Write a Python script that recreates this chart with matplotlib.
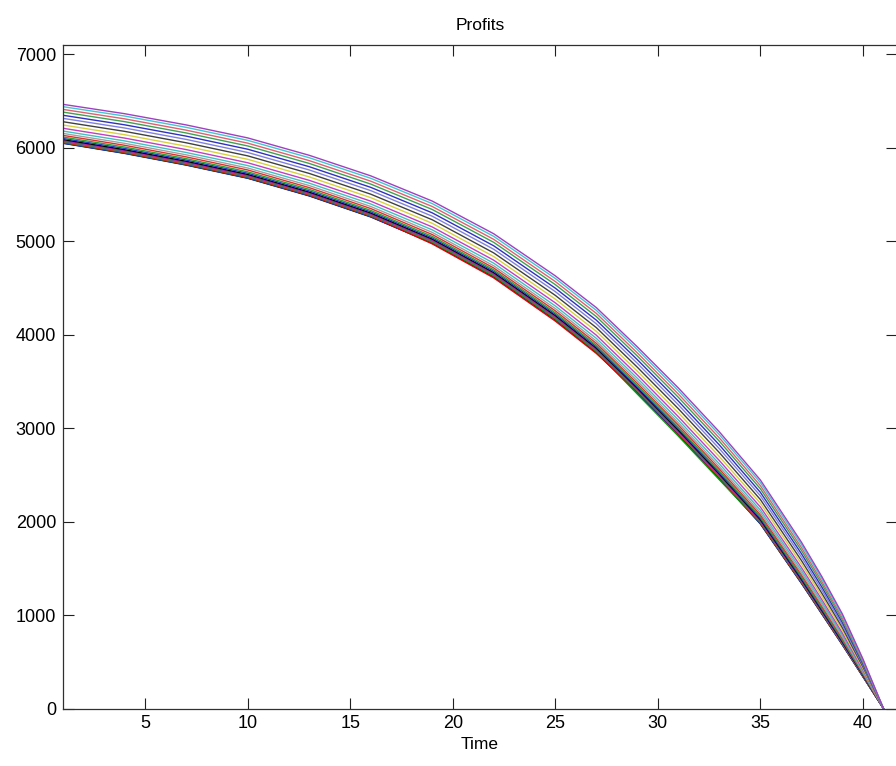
"""Profit paths over time, one line per scenario, saved to out.png."""

import matplotlib.pyplot as plt

plt.rcParams["font.family"] = ["Liberation Sans", "DejaVu Sans"]

# sample times (periods)
time = [1, 4, 7, 10, 13, 16, 19, 22, 25, 27, 29, 31, 33, 35, 37, 38, 39, 40, 41]

# profit paths, highest starting level first
profits = [
    [6465, 6365, 6245, 6106, 5920, 5700, 5430, 5080, 4630, 4290, 3870, 3430, 2960, 2445, 1780, 1410, 1010, 530, 0],
    [6440, 6340, 6219, 6080, 5894, 5674, 5403, 5052, 4602, 4261, 3841, 3400, 2930, 2417, 1754, 1386, 990, 519, 0],
    [6411, 6310, 6189, 6050, 5863, 5643, 5372, 5020, 4569, 4228, 3806, 3365, 2895, 2384, 1723, 1358, 967, 505, 0],
    [6382, 6280, 6159, 6020, 5833, 5612, 5340, 4988, 4536, 4194, 3772, 3330, 2860, 2351, 1692, 1330, 944, 492, 0],
    [6348, 6246, 6125, 5985, 5798, 5577, 5304, 4951, 4498, 4156, 3733, 3290, 2820, 2313, 1657, 1298, 918, 477, 0],
    [6315, 6212, 6090, 5950, 5763, 5542, 5268, 4914, 4461, 4117, 3694, 3250, 2780, 2276, 1622, 1266, 891, 462, 0],
    [6279, 6176, 6054, 5914, 5726, 5504, 5230, 4875, 4421, 4076, 3652, 3208, 2738, 2236, 1584, 1232, 863, 445, 0],
    [6244, 6140, 6017, 5877, 5689, 5467, 5192, 4836, 4381, 4036, 3610, 3165, 2695, 2196, 1547, 1198, 835, 429, 0],
    [6209, 6104, 5981, 5840, 5652, 5429, 5153, 4797, 4341, 3995, 3569, 3123, 2653, 2156, 1509, 1164, 807, 413, 0],
    [6179, 6074, 5950, 5810, 5622, 5399, 5122, 4765, 4308, 3961, 3534, 3088, 2618, 2123, 1479, 1136, 784, 400, 0],
    [6154, 6048, 5925, 5784, 5596, 5372, 5095, 4737, 4280, 3932, 3505, 3058, 2588, 2095, 1452, 1112, 764, 388, 0],
    [6133, 6027, 5903, 5763, 5574, 5350, 5072, 4714, 4256, 3908, 3480, 3033, 2563, 2071, 1430, 1092, 748, 379, 0],
    [6115, 6008, 5884, 5743, 5555, 5330, 5052, 4694, 4235, 3887, 3458, 3010, 2540, 2050, 1410, 1074, 733, 370, 0],
    [6100, 5993, 5869, 5728, 5539, 5315, 5036, 4678, 4219, 3870, 3441, 2993, 2523, 2034, 1395, 1060, 721, 364, 0],
    [6088, 5980, 5856, 5715, 5526, 5302, 5023, 4664, 4205, 3856, 3427, 2978, 2508, 2020, 1382, 1048, 711, 358, 0],
    [6077, 5970, 5845, 5704, 5515, 5291, 5012, 4652, 4193, 3844, 3414, 2965, 2495, 2008, 1371, 1038, 703, 353, 0],
    [6070, 5963, 5838, 5697, 5508, 5283, 5004, 4644, 4185, 3835, 3406, 2957, 2487, 2000, 1363, 1031, 697, 350, 0],
    [6063, 5955, 5830, 5690, 5501, 5276, 4996, 4637, 4177, 3827, 3398, 2948, 2478, 1992, 1356, 1024, 692, 347, 0],
    [6058, 5950, 5825, 5684, 5495, 5271, 4972, 4608, 4146, 3800, 3392, 2942, 2472, 1986, 1351, 1020, 688, 345, 0],
    [6054, 5946, 5821, 5680, 5492, 5267, 4987, 4627, 4167, 3817, 3365, 2915, 2448, 1982, 1347, 1016, 685, 343, 0],
    [6051, 5943, 5818, 5677, 5488, 5263, 4983, 4623, 4163, 3813, 3383, 2934, 2464, 1978, 1343, 1013, 682, 341, 0],
    [6048, 5940, 5815, 5674, 5485, 5260, 4980, 4620, 4160, 3810, 3380, 2930, 2460, 1975, 1340, 1010, 680, 340, 0],
]

line_colors = [
    "#a040c0", "#40c8d0", "#e06070", "#40a050", "#3030c0", "#8080e0",
    "#404040", "#d8d040", "#c040c0", "#40c0c0", "#a0a0a0", "#e03030",
    "#30a030", "#2040c0", "#000000", "#c020a0", "#208080", "#a06030",
    "#e00000", "#00a000", "#0000ff", "#202080",
]


def main() -> None:
    fig = plt.figure(figsize=(8.96, 7.66), dpi=100)
    ax = fig.add_axes([63 / 896, 1 - 708.5 / 766, 834 / 896, 663.5 / 766])

    # draw from the bottom path up so the upper paths sit on top at the tip
    for vals, col in reversed(list(zip(profits, line_colors))):
        ax.plot(time, vals, color=col, linewidth=1.0)

    ax.set_xlim(1, 41.66)
    ax.set_ylim(0, 7100)
    ax.set_xticks([5, 10, 15, 20, 25, 30, 35, 40])
    ax.set_yticks([0, 1000, 2000, 3000, 4000, 5000, 6000, 7000])
    ax.tick_params(direction="in", length=8, width=0.8, labelsize=13,
                   top=True, right=True, color="#202020", pad=5)
    for sp in ax.spines.values():
        sp.set_color("#303030")
        sp.set_linewidth(0.9)

    ax.set_title("Profits", fontsize=12.5, pad=11)
    ax.set_xlabel("Time", fontsize=12.5, labelpad=3)

    fig.savefig("out.png", dpi=100)


if __name__ == "__main__":
    main()
